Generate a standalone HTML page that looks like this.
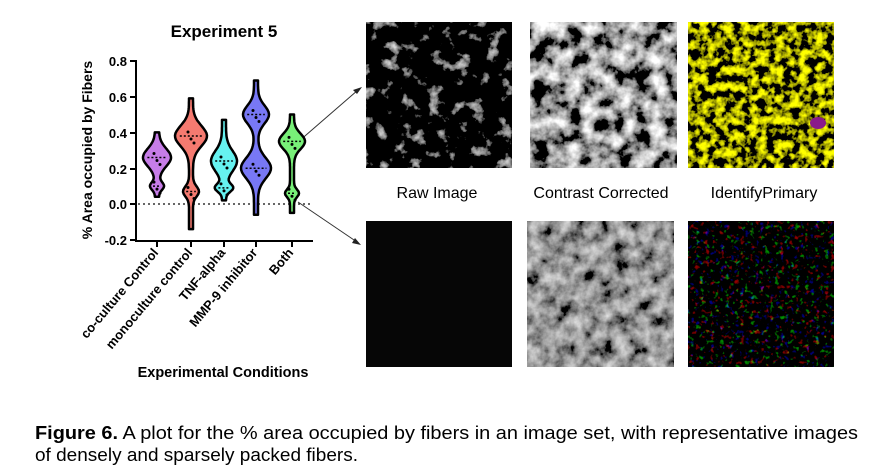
<!DOCTYPE html>
<html><head><meta charset="utf-8"><style>
body{margin:0;background:#fff;width:869px;height:472px;overflow:hidden;font-family:"Liberation Sans",sans-serif}
</style></head><body>
<svg width="869" height="472" xmlns="http://www.w3.org/2000/svg" style="position:absolute;left:0;top:0">
<defs>
<filter id="g1" x="0" y="0" width="100%" height="100%"><feTurbulence type="fractalNoise" baseFrequency="0.07" numOctaves="4" seed="5"/><feColorMatrix type="matrix" values="2.2 0 0 0 -1.3 2.2 0 0 0 -1.3 2.2 0 0 0 -1.3 0 0 0 0 1"/></filter>
<filter id="g2" x="0" y="0" width="100%" height="100%"><feTurbulence type="fractalNoise" baseFrequency="0.06" numOctaves="4" seed="8"/><feColorMatrix type="matrix" values="2.4 0 0 0 -0.85 2.4 0 0 0 -0.85 2.4 0 0 0 -0.85 0 0 0 0 1"/></filter>
<filter id="g3" x="0" y="0" width="100%" height="100%"><feTurbulence type="fractalNoise" baseFrequency="0.12" numOctaves="3" seed="2"/><feColorMatrix type="matrix" values="3.5 0 0 0 -1.45 3.5 0 0 0 -1.45 0 0 0 0 0 0 0 0 0 1"/></filter>
<filter id="g5" x="0" y="0" width="100%" height="100%"><feTurbulence type="fractalNoise" baseFrequency="0.07" numOctaves="4" seed="9"/><feColorMatrix type="matrix" values="1.2 0 0 0 -0.3 1.2 0 0 0 -0.3 1.2 0 0 0 -0.3 0 0 0 0 1"/></filter>
<filter id="g6" x="0" y="0" width="100%" height="100%"><feTurbulence type="fractalNoise" baseFrequency="0.2" numOctaves="2" seed="11"/><feColorMatrix type="matrix" values="4 0 0 0 -2.6 0 4 0 0 -2.6 0 0 4 0 -2.6 0 0 0 0 1"/></filter>
</defs>
<rect x="366" y="22" width="146" height="146" fill="#000"/><rect x="366" y="22" width="146" height="146" filter="url(#g1)"/>
<rect x="530" y="22" width="147" height="146" filter="url(#g2)"/>
<rect x="688" y="22" width="146" height="146" filter="url(#g3)"/>
<ellipse cx="818" cy="123" rx="8" ry="6" fill="#8a1a8a"/>
<rect x="366" y="221" width="146" height="146" fill="#060606"/>
<rect x="527" y="221" width="147" height="146" filter="url(#g5)"/>
<rect x="688" y="221" width="146" height="146" fill="#000"/><rect x="688" y="221" width="146" height="146" filter="url(#g6)" opacity="0.6"/>
<g font-size="16" fill="#000" text-anchor="middle">
<text x="437" y="198">Raw Image</text><text x="601" y="198">Contrast Corrected</text><text x="764" y="198">IdentifyPrimary</text>
</g>
<line x1="298" y1="142" x2="358" y2="90" stroke="#333" stroke-width="1"/>
<path d="M362,87 L353,90 L357,94 Z" fill="#222"/>
<line x1="298" y1="202" x2="357" y2="242" stroke="#333" stroke-width="1"/>
<path d="M361,245 L352,243 L355,238 Z" fill="#222"/>
<text x="224" y="37" font-size="17" font-weight="bold" text-anchor="middle">Experiment 5</text>
<text transform="translate(92,150) rotate(-90)" font-size="14" font-weight="bold" text-anchor="middle">% Area occupied by Fibers</text>
<g stroke="#000" stroke-width="2" fill="none"><path d="M136,60 V241 H313"/>
<path d="M130,61H136M130,97H136M130,133H136M130,169H136M130,204H136M130,240H136"/>
<path d="M157,241v6M191,241v6M224,241v6M256,241v6M292,241v6"/></g>
<g font-size="13" font-weight="bold" text-anchor="end">
<text x="127" y="66">0.8</text><text x="127" y="102">0.6</text><text x="127" y="138">0.4</text><text x="127" y="174">0.2</text><text x="127" y="209">0.0</text><text x="127" y="245">-0.2</text></g>
<line x1="138" y1="204" x2="313" y2="204" stroke="#333" stroke-width="1.5" stroke-dasharray="2,3"/>
<g id="vio"></g>
<g font-size="13" font-weight="bold" text-anchor="end">
<text transform="translate(159,253) rotate(-50)">co-culture Control</text>
<text transform="translate(193,253) rotate(-50)">monoculture control</text>
<text transform="translate(226,253) rotate(-50)">TNF-alpha</text>
<text transform="translate(258,253) rotate(-50)">MMP-9 inhibitor</text>
<text transform="translate(294,253) rotate(-50)">Both</text></g>
<text x="223" y="377" font-size="14.5" font-weight="bold" text-anchor="middle">Experimental Conditions</text>
<text x="35" y="439" font-size="18" textLength="823" lengthAdjust="spacingAndGlyphs"><tspan font-weight="bold">Figure 6.</tspan>  A plot for the % area occupied by fibers in an image set, with representative images</text>
<text x="35" y="461" font-size="18" textLength="323" lengthAdjust="spacingAndGlyphs">of densely and sparsely packed fibers.</text>
</svg>
<script>
var V=[[157,"#c77de8",0.04,0.4,[[0.26,12,0.07],[0.1,5,0.03]]],
[191,"#f57a70",-0.14,0.59,[[0.38,14,0.08],[0.07,6,0.04]]],
[224,"#66f2f0",0.02,0.47,[[0.24,11,0.08],[0.09,7,0.03]]],
[256,"#7878f5",-0.06,0.69,[[0.5,11,0.07],[0.2,13,0.08]]],
[292,"#78f078",-0.05,0.5,[[0.35,11,0.06],[0.06,5,0.03]]]];
var g=document.getElementById("vio"),h="";
V.forEach(function(v){var L=[],R=[];for(var i=0;i<=60;i++){var t=v[2]+(v[3]-v[2])*i/60;var w=2;v[4].forEach(function(b){w+=b[1]*Math.exp(-Math.pow((t-b[0])/b[2],2))});var y=204-t*179;L.push((v[0]-w).toFixed(1)+","+y.toFixed(1));R.unshift((v[0]+w).toFixed(1)+","+y.toFixed(1));}
h+='<polygon points="'+L.concat(R).join(" ")+'" fill="'+v[1]+'" stroke="#000" stroke-width="2.5" stroke-linejoin="round"/>';
v[4].forEach(function(b){var y=204-b[0]*179;h+='<line x1="'+(v[0]-b[1]*0.8)+'" x2="'+(v[0]+b[1]*0.8)+'" y1="'+y+'" y2="'+y+'" stroke="#000" stroke-width="1.5" stroke-dasharray="2,2"/>';h+='<circle cx="'+v[0]+'" cy="'+(y+3)+'" r="1.5"/><circle cx="'+(v[0]-3)+'" cy="'+(y-4)+'" r="1.5"/><circle cx="'+(v[0]+3)+'" cy="'+(y+7)+'" r="1.5"/>';});});
g.innerHTML=h;
</script>
</body></html>
